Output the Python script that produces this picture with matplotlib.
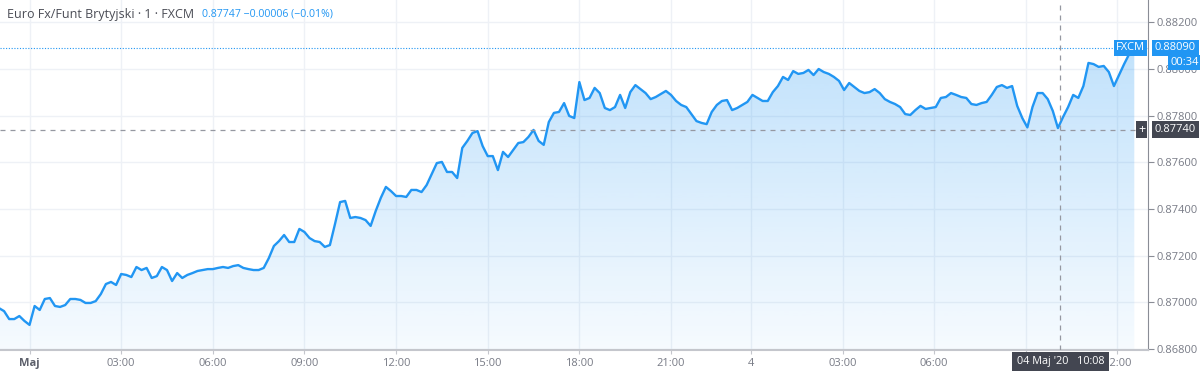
import numpy as np
import matplotlib.pyplot as plt
from matplotlib.path import Path
from matplotlib.patches import PathPatch

# EUR/GBP, 1-minutowe słupki, próbkowane co 10 minut (oś = czas notowań w minutach)
start_min = -60
step_min = 10
prices = [
    0.86976, 0.86963, 0.86929, 0.86929, 0.86942, 0.86921, 0.86904, 0.86985, 0.86968, 0.87015,
    0.87019, 0.86985, 0.86981, 0.86989, 0.87015, 0.87015, 0.87011, 0.86998, 0.86998, 0.87006,
    0.87036, 0.87079, 0.87088, 0.87075, 0.87122, 0.87118, 0.87109, 0.87152, 0.87139, 0.87148,
    0.87105, 0.87113, 0.87152, 0.87139, 0.87092, 0.87126, 0.87105, 0.87118, 0.87126, 0.87135,
    0.87139, 0.87143, 0.87143, 0.87148, 0.87152, 0.87148, 0.87156, 0.87160, 0.87148, 0.87143,
    0.87139, 0.87139, 0.87148, 0.87190, 0.87242, 0.87263, 0.87289, 0.87259, 0.87259, 0.87315,
    0.87302, 0.87276, 0.87263, 0.87259, 0.87238, 0.87246, 0.87336, 0.87430, 0.87435, 0.87362,
    0.87366, 0.87362, 0.87353, 0.87328, 0.87392, 0.87448, 0.87495, 0.87477, 0.87456, 0.87456,
    0.87452, 0.87482, 0.87482, 0.87473, 0.87503, 0.87550, 0.87597, 0.87602, 0.87559, 0.87559,
    0.87533, 0.87662, 0.87692, 0.87726, 0.87734, 0.87670, 0.87627, 0.87627, 0.87567, 0.87645,
    0.87623, 0.87653, 0.87683, 0.87687, 0.87709, 0.87739, 0.87692, 0.87675, 0.87773, 0.87812,
    0.87816, 0.87854, 0.87799, 0.87790, 0.87944, 0.87867, 0.87876, 0.87919, 0.87897, 0.87833,
    0.87824, 0.87837, 0.87889, 0.87833, 0.87901, 0.87931, 0.87914, 0.87897, 0.87871, 0.87880,
    0.87893, 0.87906, 0.87889, 0.87863, 0.87846, 0.87837, 0.87807, 0.87777, 0.87769, 0.87764,
    0.87816, 0.87846, 0.87863, 0.87867, 0.87824, 0.87833, 0.87846, 0.87859, 0.87889, 0.87876,
    0.87863, 0.87863, 0.87901, 0.87927, 0.87966, 0.87953, 0.87991, 0.87979, 0.87983, 0.87996,
    0.87974, 0.88000, 0.87987, 0.87979, 0.87966, 0.87949, 0.87910, 0.87940, 0.87923, 0.87906,
    0.87897, 0.87901, 0.87914, 0.87897, 0.87871, 0.87859, 0.87850, 0.87837, 0.87807, 0.87803,
    0.87824, 0.87842, 0.87829, 0.87833, 0.87837, 0.87876, 0.87880, 0.87897, 0.87889, 0.87880,
    0.87876, 0.87850, 0.87846, 0.87854, 0.87859, 0.87889, 0.87923, 0.87931, 0.87919, 0.87927,
    0.87842, 0.87790, 0.87750, 0.87837, 0.87897, 0.87897, 0.87871, 0.87820, 0.87747, 0.87794,
    0.87837, 0.87889, 0.87876, 0.87927, 0.88026, 0.88021, 0.88009, 0.88013, 0.87987, 0.87927,
    0.87974, 0.88021, 0.88064, 0.88090,
]
times = start_min + step_min * np.arange(len(prices))

x_tick_pos = [0, 180, 360, 540, 720, 900, 1080, 1260, 1417, 1597, 1777, 1957, 2137]
x_tick_lab = ["Maj", "03:00", "06:00", "09:00", "12:00", "15:00", "18:00", "21:00",
              "4", "03:00", "06:00", "09:00", "12:00"]
y_ticks = [0.868, 0.870, 0.872, 0.874, 0.876, 0.878, 0.880, 0.882]

last_price = 0.88090
cross_time = 2025
cross_price = 0.87740

blue = "#2196f3"
grid_c = "#eef1f6"
txt_c = "#787b86"
dark = "#434651"

plt.rcParams["font.family"] = ["Open Sans", "DejaVu Sans"]

fig = plt.figure(figsize=(12, 3.74), dpi=100)
ax = fig.add_axes([0, 0.0642, 0.9567, 0.9358])
xmin, xmax = -58, 2197
ymin, ymax = 0.867966, 0.882955
ax.set_xlim(xmin, xmax)
ax.set_ylim(ymin, ymax)

# siatka
for xt in x_tick_pos:
    ax.axvline(xt, color=grid_c, lw=1, zorder=0)
for yt in y_ticks:
    ax.axhline(yt, color=grid_c, lw=1, zorder=0)

# wypełnienie gradientem pod linią
verts = np.vstack([np.column_stack([times, prices]),
                   [[times[-1], ymin], [times[0], ymin]]])
patch = PathPatch(Path(verts), facecolor="none", edgecolor="none")
ax.add_patch(patch)
alpha = np.linspace(0.04, 0.28, 256)
rgba = np.zeros((256, 1, 4))
rgba[..., 0] = 33 / 255
rgba[..., 1] = 150 / 255
rgba[..., 2] = 243 / 255
rgba[:, 0, 3] = alpha
im = ax.imshow(rgba, extent=[times[0], times[-1], ymin, max(prices)],
               origin="lower", aspect="auto", zorder=1, interpolation="bilinear")
im.set_clip_path(patch)

ax.plot(times, prices, color=blue, lw=1.7, zorder=3, solid_joinstyle="round")

# linia ostatniej ceny
ax.axhline(last_price, color=blue, lw=0.8, ls=(0, (1, 1.5)), zorder=2)

# krzyż kursora
ax.axvline(cross_time, color="#9598a1", lw=0.9, ls=(0, (4, 4)), zorder=4)
ax.axhline(cross_price, color="#9598a1", lw=0.9, ls=(0, (4, 4)), zorder=4)

# osie
for s in ["top", "left"]:
    ax.spines[s].set_visible(False)
ax.spines["right"].set_color("#8a8d96")
ax.spines["bottom"].set_color("#c4c6cc")
ax.spines["bottom"].set_linewidth(1.5)
ax.yaxis.tick_right()
ax.set_yticks(y_ticks)
ax.set_yticklabels([f"{v:.5f}" for v in y_ticks])
ax.set_xticks(x_tick_pos)
ax.set_xticklabels(x_tick_lab)
ax.tick_params(axis="y", colors=txt_c, labelsize=8, length=4, pad=2, color="#8a8d96")
ax.tick_params(axis="x", colors=txt_c, labelsize=8, length=3, pad=3, color="#c4c6cc")
ax.get_xticklabels()[0].set_fontweight("bold")
ax.get_xticklabels()[0].set_color("#5d606b")

yax = ax.get_yaxis_transform()
# etykiety ostatniej ceny
ax.text(1.006, last_price, "0.88090", transform=yax, color="white", fontsize=8,
        va="center", ha="left", zorder=10, clip_on=False,
        bbox=dict(boxstyle="square,pad=0.25", fc=blue, ec="none"))
ax.text(0.9975, last_price, "FXCM", transform=yax, color="white", fontsize=8,
        va="center", ha="right", zorder=10, clip_on=False,
        bbox=dict(boxstyle="square,pad=0.2", fc=blue, ec="none"))
ax.text(1.0195, 0.88028, "00:34", transform=yax, color="white", fontsize=8,
        va="center", ha="left", zorder=10, clip_on=False,
        bbox=dict(boxstyle="square,pad=0.2", fc=blue, ec="none"))
# etykiety kursora
ax.text(1.006, cross_price, "0.87740", transform=yax, color="white", fontsize=8,
        va="center", ha="left", zorder=10, clip_on=False,
        bbox=dict(boxstyle="square,pad=0.25", fc=dark, ec="none"))
ax.text(0.9945, cross_price, "+", transform=yax, color="white", fontsize=9,
        va="center", ha="center", zorder=10, clip_on=False,
        bbox=dict(boxstyle="square,pad=0.15", fc=dark, ec="none"))
ax.text(cross_time, -0.033, "04 Maj '20   10:08", transform=ax.get_xaxis_transform(),
        color="white", fontsize=7.8, va="center", ha="center", zorder=10, clip_on=False,
        bbox=dict(boxstyle="square,pad=0.4", fc=dark, ec="none"))

# nagłówek
fig.text(0.006, 0.962, "Euro Fx/Funt Brytyjski · 1 · FXCM", color="#4a4c55",
         fontsize=9.0, va="center", ha="left")
fig.text(0.168, 0.962, "0.87747 −0.00006 (−0.01%)", color=blue,
         fontsize=7.6, va="center", ha="left")

fig.savefig("out.png", dpi=100)
